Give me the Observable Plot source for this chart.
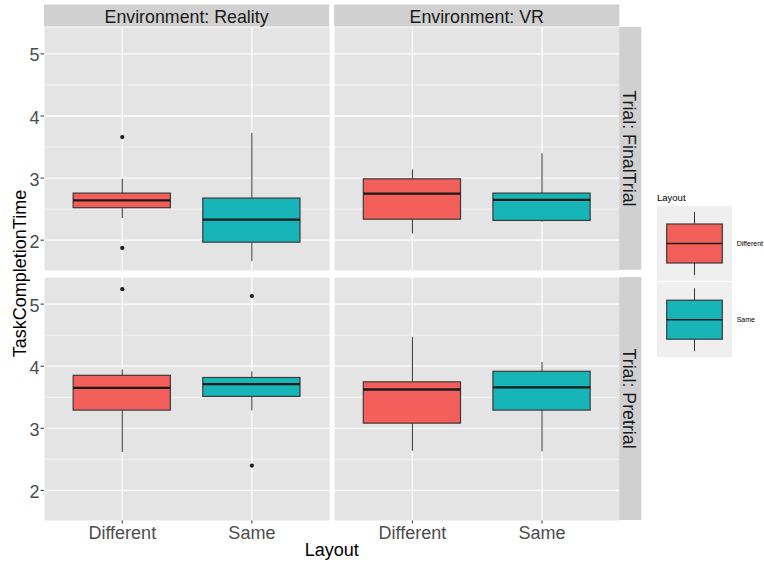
<!DOCTYPE html>
<html>
<head>
<meta charset="utf-8">
<script src="https://cdn.jsdelivr.net/npm/d3@7"></script>
<script src="https://cdn.jsdelivr.net/npm/@observablehq/plot@0.6"></script>
<style>
  html, body { margin: 0; padding: 0; background: #fff; }
  #wrap { position: relative; width: 764px; height: 562px; overflow: hidden; font-family: "Liberation Sans", Arial, sans-serif; }
  #wrap > svg { position: absolute; left: 0; top: 0; }
  #chart g[aria-label="y-axis tick label"], #chart g[aria-label="x-axis tick label"],
  #chart g[aria-label="y-axis"] text, #chart g[aria-label="x-axis"] text { fill: #4d4d4d; }
</style>
</head>
<body>
<div id="wrap"></div>
<script>
// Facet and group categories
const environments = ["Reality", "VR"];
const trials = ["FinalTrial", "Pretrial"];
const layouts = ["Different", "Same"];

// Box summaries (lower whisker, Q1, median, Q3, upper whisker), one entry per box
const boxEnv    = ["Reality", "Reality", "VR", "VR", "Reality", "Reality", "VR", "VR"];
const boxTrial  = ["FinalTrial", "FinalTrial", "FinalTrial", "FinalTrial", "Pretrial", "Pretrial", "Pretrial", "Pretrial"];
const boxLayout = ["Different", "Same", "Different", "Same", "Different", "Same", "Different", "Same"];
const whiskerLow  = [2.35, 1.655, 2.10, 2.29, 2.61, 3.28, 2.63, 2.62];
const quart1      = [2.515, 1.96, 2.33, 2.31, 3.285, 3.505, 3.075, 3.285];
const medians     = [2.64, 2.33, 2.75, 2.65, 3.65, 3.71, 3.625, 3.66];
const quart3      = [2.75, 2.67, 2.98, 2.75, 3.845, 3.81, 3.74, 3.91];
const whiskerHigh = [2.98, 3.72, 3.13, 3.39, 3.94, 3.91, 4.46, 4.06];

// Outlying observations
const outEnv    = ["Reality", "Reality", "Reality", "Reality", "Reality"];
const outTrial  = ["FinalTrial", "FinalTrial", "Pretrial", "Pretrial", "Pretrial"];
const outLayout = ["Different", "Different", "Different", "Same", "Same"];
const outValue  = [3.66, 1.875, 5.24, 5.13, 2.40];

// Axis ticks
const yTicks = [2, 3, 4, 5];
const yMinor = [2.5, 3.5, 4.5];

const fillColors = ["#F35F5B", "#17B4B8"];

const boxes = boxEnv.map((env, i) => ({
  env, trial: boxTrial[i], layout: boxLayout[i],
  lo: whiskerLow[i], q1: quart1[i], med: medians[i], q3: quart3[i], hi: whiskerHigh[i]
}));
const outliers = outEnv.map((env, i) => ({
  env, trial: outTrial[i], layout: outLayout[i], value: outValue[i]
}));

const W = 764, H = 562;
const M = {top: 27, right: 144.7, bottom: 42, left: 44};
const font = "'Liberation Sans', Arial, Helvetica, sans-serif";

const facet = {fx: "env", fy: "trial"};

const chart = Plot.plot({
  width: W,
  height: H,
  marginTop: M.top,
  marginRight: M.right,
  marginBottom: M.bottom,
  marginLeft: M.left,
  style: {fontFamily: font, fontSize: "18px", color: "#333333", background: "transparent", overflow: "visible"},
  fx: {domain: environments, paddingInner: 0.0172, paddingOuter: 0, round: false, axis: null, label: null},
  fy: {domain: trials, paddingInner: 0.0296, paddingOuter: 0, round: false, axis: null, label: null},
  x: {type: "band", domain: layouts, paddingInner: 0.25, paddingOuter: 0.225, round: false,
      tickSize: 3.5, tickPadding: 2.5, label: null},
  y: {domain: [1.515, 5.425], ticks: yTicks, tickFormat: d => String(d), tickSize: 3.5, tickPadding: 1.5, label: null},
  color: {domain: layouts, range: fillColors},
  marks: [
    Plot.frame({fill: "#E4E4E4", stroke: "none"}),
    Plot.ruleY(yMinor, {stroke: "#ffffff", strokeWidth: 0.6}),
    Plot.ruleY(yTicks, {stroke: "#ffffff", strokeWidth: 1.3}),
    Plot.ruleX(layouts, {x: d => d, stroke: "#ffffff", strokeWidth: 1.3}),
    Plot.ruleX(boxes, {...facet, x: "layout", y1: "lo", y2: "q1", stroke: "#333333", strokeWidth: 1}),
    Plot.ruleX(boxes, {...facet, x: "layout", y1: "q3", y2: "hi", stroke: "#333333", strokeWidth: 1}),
    Plot.barY(boxes, {...facet, x: "layout", y1: "q1", y2: "q3", fill: "layout", stroke: "#3a3a3a", strokeWidth: 1.2}),
    Plot.tickY(boxes, {...facet, x: "layout", y: "med", stroke: "#1a1a1a", strokeWidth: 2.3}),
    Plot.dot(outliers, {...facet, x: "layout", y: "value", r: 2.1, fill: "#1a1a1a", stroke: "none"})
  ]
});
chart.setAttribute("id", "chart");
document.getElementById("wrap").append(chart);

const svg = d3.select(chart);
// nudge the y tick labels so each digit is centred on its tick
svg.selectAll('g[aria-label="y-axis tick label"] text, g[aria-label="y-axis"] .tick text').attr("dy", "0.1em");

// Facet strips and axis titles, placed from the facet scales
const fx = chart.scale("fx");
const fy = chart.scale("fy");
const stripSize = 22;
const stripFont = 17.8;
const deco = svg.append("g").attr("font-family", font);

const panelLeft = fx.apply(environments[0]);
const panelRight = fx.apply(environments[environments.length - 1]) + fx.bandwidth;
const panelTop = fy.apply(trials[0]);
const panelBottom = fy.apply(trials[trials.length - 1]) + fy.bandwidth;

for (const env of environments) {
  const x0 = fx.apply(env);
  deco.append("rect")
    .attr("x", x0).attr("y", panelTop - stripSize - 0.5)
    .attr("width", fx.bandwidth).attr("height", stripSize)
    .attr("fill", "#D0D0D0");
  deco.append("text")
    .attr("x", x0 + fx.bandwidth / 2).attr("y", panelTop - stripSize - 0.5 + 18)
    .attr("text-anchor", "middle").attr("font-size", stripFont).attr("fill", "#1a1a1a")
    .text(`Environment: ${env}`);
}
for (const trial of trials) {
  const y0 = fy.apply(trial);
  deco.append("rect")
    .attr("x", panelRight).attr("y", y0)
    .attr("width", stripSize).attr("height", fy.bandwidth)
    .attr("fill", "#D0D0D0");
  deco.append("text")
    .attr("transform", `translate(${panelRight + 4},${y0 + fy.bandwidth / 2}) rotate(90)`)
    .attr("text-anchor", "middle").attr("font-size", stripFont).attr("fill", "#1a1a1a")
    .text(`Trial: ${trial}`);
}
deco.append("text")
  .attr("transform", `translate(25.5,${(panelTop + panelBottom) / 2}) rotate(-90)`)
  .attr("text-anchor", "middle").attr("font-size", 18).attr("fill", "#000")
  .text("TaskCompletionTime");
deco.append("text")
  .attr("x", (panelLeft + panelRight) / 2).attr("y", panelBottom + 36.3)
  .attr("text-anchor", "middle").attr("font-size", 18).attr("fill", "#000")
  .text("Layout");

// Legend: boxplot glyph keys coloured through the chart's colour scale
const color = chart.scale("color");
const legend = d3.select("#wrap").append("svg")
  .attr("width", W).attr("height", H)
  .attr("font-family", font)
  .style("pointer-events", "none");
const keyX = 657, keyY = 206, keyW = 75, keyH = 75, keyGap = 1.2;
legend.append("text").attr("x", keyX).attr("y", 200.5)
  .attr("font-size", 9.5).attr("fill", "#000").text("Layout");
layouts.forEach((lay, i) => {
  const ky = keyY + i * (keyH + keyGap);
  const g = legend.append("g").attr("transform", `translate(${keyX},${ky})`);
  g.append("rect").attr("width", keyW).attr("height", keyH).attr("fill", "#EFEFEF");
  g.append("line").attr("x1", keyW / 2).attr("x2", keyW / 2).attr("y1", 6).attr("y2", keyH - 6)
    .attr("stroke", "#333").attr("stroke-width", 1);
  g.append("rect").attr("x", 9.7).attr("y", 18).attr("width", keyW - 19.4).attr("height", keyH - 36)
    .attr("fill", color.apply(lay)).attr("stroke", "#3a3a3a").attr("stroke-width", 1.2);
  g.append("line").attr("x1", 9.7).attr("x2", keyW - 9.7).attr("y1", keyH / 2).attr("y2", keyH / 2)
    .attr("stroke", "#1a1a1a").attr("stroke-width", 1.4);
  legend.append("text").attr("x", keyX + keyW + 4.7).attr("y", ky + keyH / 2 + 2.5)
    .attr("font-size", 7).attr("fill", "#000").text(lay);
});
</script>
</body>
</html>
